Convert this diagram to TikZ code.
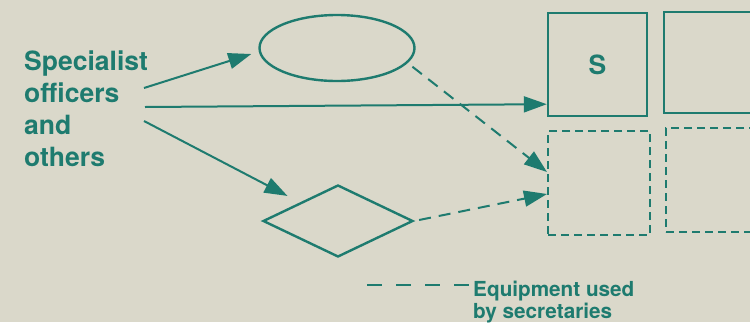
\documentclass[tikz,border=0pt]{standalone}
\usepackage{fontspec}
\newfontfamily\heros{TeX Gyre Heros}
\usetikzlibrary{arrows.meta,shapes.geometric}
\definecolor{paper}{HTML}{DAD8CA}
\definecolor{ink}{HTML}{1E7B6F}
\begin{document}
\begin{tikzpicture}[x=1pt,y=-1pt,
  lbl/.style={font=\heros\bfseries\fontsize{26.5}{31.7}\selectfont, text=ink, inner sep=0pt},
  note/.style={font=\heros\bfseries\fontsize{20.7}{22.5}\selectfont, text=ink, inner sep=0pt},
  outline/.style={draw=ink, line width=2.4pt, inner sep=0pt},
  solidbox/.style={outline, rectangle},
  dashbox/.style={draw=ink, line width=2pt, dash pattern=on 8pt off 5pt, inner sep=0pt},
  link/.style={draw=ink, line width=2pt, -{Triangle[length=23pt,width=16pt]}},
  dlink/.style={link, dash pattern=on 12pt off 8pt},
]
% paper and frame
\path[fill=paper, use as bounding box] (0,0) rectangle (750,322);
\clip (0,0) rectangle (750,322);

% source label (anchored at the baseline of its last line)
\node[lbl, anchor=base west, align=left] (src) at (24,166)
  {Specialist\\officers\\and\\others};
\coordinate (o1) at (144,88);
\coordinate (o2) at (145,107);
\coordinate (o3) at (144,121);

% intermediate shapes
\node[ellipse, outline, minimum width=155pt, minimum height=66pt] (ell) at (337,48) {};
\node[diamond, outline, minimum width=150pt, minimum height=72pt] (dia) at (338,221) {};

% target boxes
\node[solidbox, minimum width=99pt, minimum height=103pt, lbl] (sbox) at (597.5,64.5) {S};
\node[solidbox, minimum width=106pt, minimum height=101pt] (box2) at (717,62.5) {};
\node[dashbox, minimum width=102pt, minimum height=104pt] (dbox) at (599,183) {};
\node[dashbox, minimum width=104pt, minimum height=104pt] (dbox2) at (718,180) {};

% connectors
\draw[link] (o1) -- ([shift={(-7pt,-6pt)}]ell.west);
\draw[link] (o2) -- ([yshift=13pt]sbox.south west);
\draw[link, shorten >=14pt] (o3) -- (dia.north west);
\draw[dlink, shorten <=6pt] (ell.-12) -- ([yshift=11pt]dbox.west);
\draw[dlink, shorten <=5pt] (dia.east) -- ([yshift=-11pt]dbox.west);

% key
\node[note, anchor=base west, align=left] (legend) at (473,318.5)
  {Equipment used\\by secretaries};
\coordinate (legL) at (367,285);
\draw[draw=ink, line width=1.8pt, dash pattern=on 15pt off 14pt, shorten >=4pt]
  (legL) -- (legL -| legend.west);
\end{tikzpicture}
\end{document}
